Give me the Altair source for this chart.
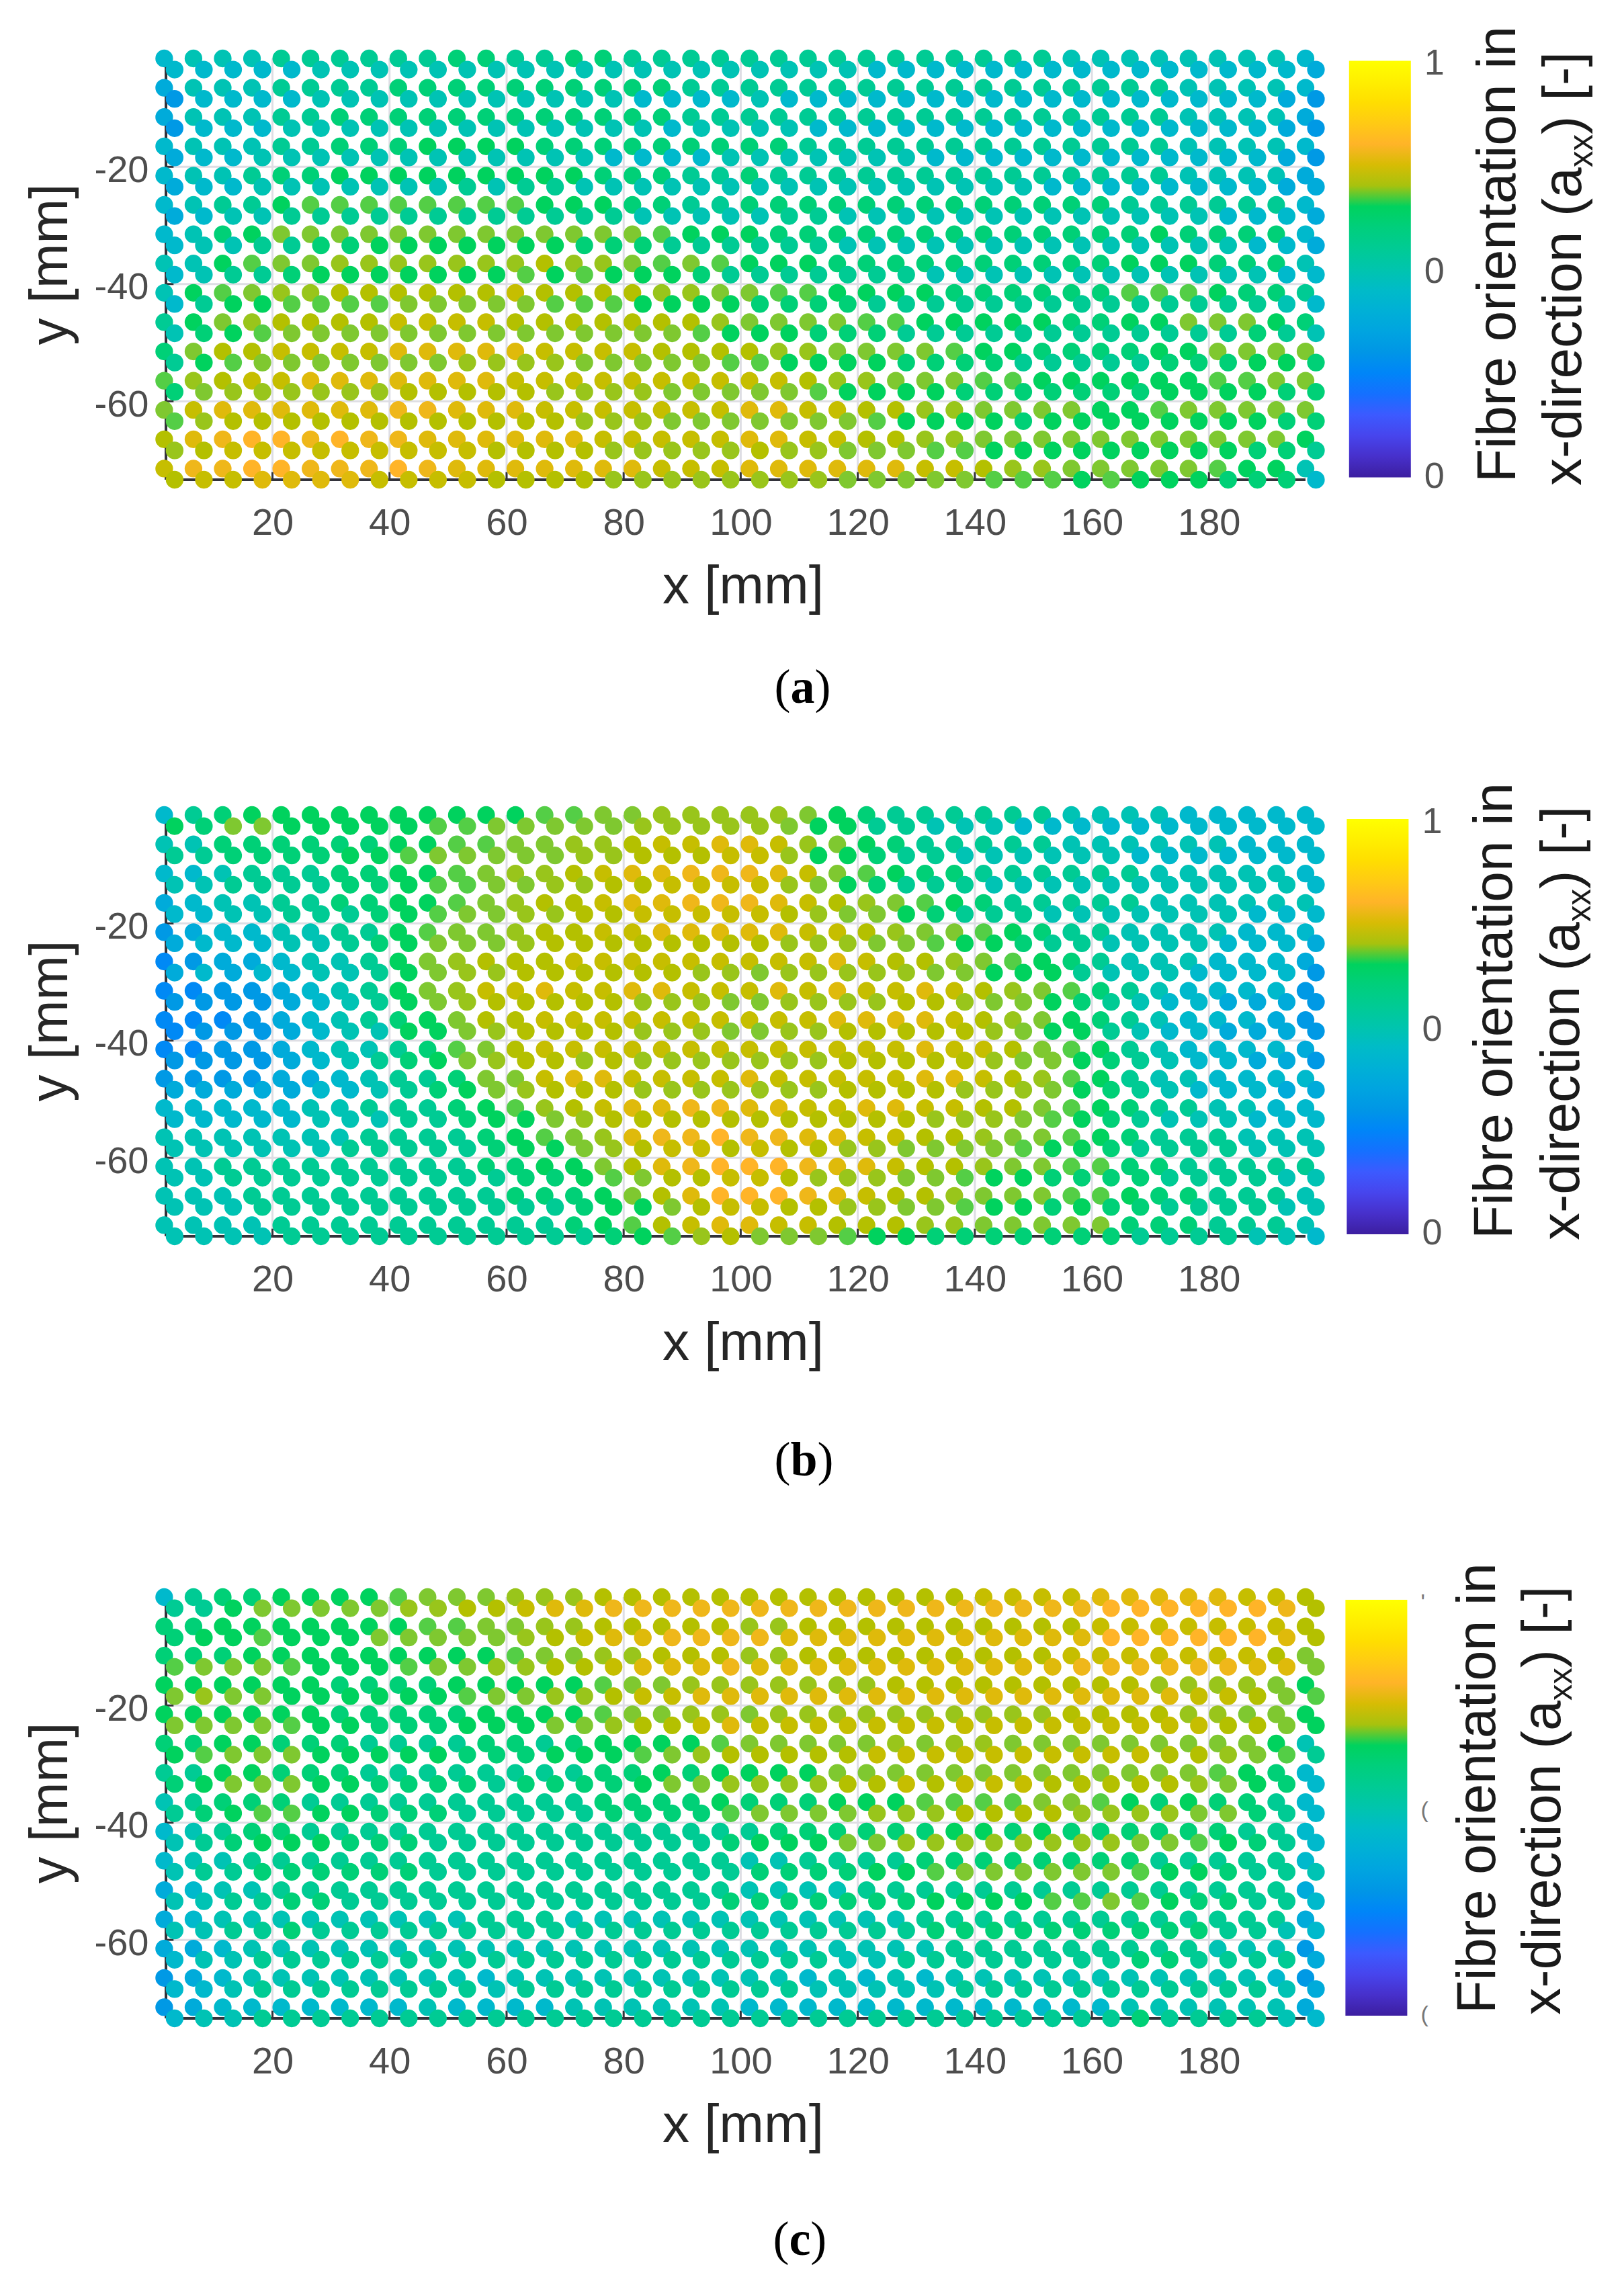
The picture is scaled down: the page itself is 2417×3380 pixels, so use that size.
import altair as alt

# Colour codes read from each dot; one string per row, 40 columns.
LEVELS = {"z": .26, "y": .29, "a": .31, "b": .38, "c": .44, "d": .49, "e": .55, "f": .61, "g": .65,
          "h": .662, "i": .672, "j": .69, "k": .71, "l": .73, "m": .76, "n": .78, "o": .80}

A_UPPER = [
 "cdddeeeeeeffeeffeeee"+"eeeeeeeeeeeddddddddc",
 "bdddeeeeffffffffffee"+"eeeeeeeeeeeeeeeddddc",
 "bdddeeffffffffffffee"+"eeeeeeeeeeeeeeeddddb",
 "cdddeefffggggfffffff"+"ffeeeeeeeeeeeeeddddc",
 "cddeffgggggggggfffee"+"feeeeeeeeeeeeeeddddb",
 "cdeeghhhhhhhhgggffee"+"fffffffffffffeeeeeec",
 "cdfgiiiiiiiiiiiiihgg"+"gfffffffffffffgffffc",
 "ddghiijjjjjjjkjjihih"+"gggffffffffffgggfffd",
 "dghijjkkkkkklkkkkjji"+"ihhggggffffffhhhgffe",
 "egijkkkkllllkkkkkkkj"+"iiiihhgggggffggiiigf",
 "fikkllllmmmmmllllkkk"+"kjjiiiihggffffggiiii",
 "hjkllmmmmmmmllllllll"+"llkjjiiihhgggggghhii",
 "ilmmmmmmnnmmmlllllll"+"mmllkkjjiiiigghiiiii",
 "kmnoononnmmmmmmlllll"+"mmllkkjjiiiiiiiiiiig",
 "lnnoonnnonmmmmmmmlll"+"mmmmmmllkjjiiiiihggd",
]
A_LOWER = [
 "cccccddddddddddddddd"+"ddddcccccccccccccccb",
 "accccdddddddddddcccc"+"dcccccccccccccccccba",
 "acccdddddddddddddcdd"+"ddccccccccccccccccba",
 "bccddddddddddddccccd"+"ddddddccccccccccccba",
 "bccdddddddedeedddddd"+"ddddddddddccccccccbb",
 "bcddeeeeeeeeeeeedddd"+"deedddddddddddddcccb",
 "cddeeffgggggggfffeee"+"eeeddddddddddddddccb",
 "cdeefggggggghghgggfe"+"eeeeeeddddddddddddcc",
 "cegghhhhiiiiihhhgggg"+"ffffeeeeeeeeeeeeeedc",
 "dfghiiiiiiiiiiiiiihg"+"ggfffeeeeeeeeeeeefed",
 "eghiiiiiiijjjjiiiiih"+"hggggffffeeeeefffggf",
 "fijjjjjjkkkkkjjjjiii"+"iihggggfffffffggggff",
 "hjkkkkkkkkkkkkjjjiii"+"iiiihggggfggggggggff",
 "jklllllllllkkkkjjjjj"+"kjjiiihhgggggggggffe",
 "kllmmmmllllkkkkjjjjj"+"jjjiiiiihhhghgggfffc",
]
B_UPPER = [
 "cefgggggggggghhiijjj"+"jjigfeeeeeeddddccccc",
 "ddffffffgghhiijjkllm"+"mljigfeeeeeddddddccc",
 "ccdeeeffgghijjklmmnn"+"nmlihgffeeeeeedddddc",
 "bcddeeffgghijkklmmnn"+"nmlkjihgfeeeeedddddd",
 "abccddeeghiijkkllmmm"+"mmllkjiihgfeeddddccc",
 "zabbcddegijkkkllllll"+"lllmlkkjihgfedddcccb",
 "zzaabcdegijllmllmmll"+"lmlmllmlkjihfedcccca",
 "zzzabcdefgikklllllll"+"lllmmmmlkjigfedcccba",
 "zzaabcddefhiklllllll"+"llllllmllkihgedccccb",
 "aaaabbcdeefiilmmllll"+"mlllllmmlkjhgeddcccc",
 "cccccddeeefghjklmmnn"+"mmllmmllkkihgfeeddcc",
 "dddddddeeeefghijmnno"+"nnmmllkkjiihgfeeeddd",
 "ddeeeeeeeeeffggikmno"+"oonmmlkkjiihhffeeeee",
 "dddeeeeeeeeefffgikmo"+"oonmlkkjiiihhgffeeed",
 "ddddeeeeeeeeeefghklm"+"mllkkkjjiiiiifffeeed",
]
B_LOWER = [
 "gfiiggggghhiiiiijjjj"+"jiggeedddccccccccccc",
 "eeffffgghiiiiijjkkkl"+"ljggfeeddddddccccccc",
 "ddeeeeffghhiijjkklll"+"ljigfeeedddddddddddc",
 "ccddeeefghiijjkkllll"+"lkjiigfeeedddddddccc",
 "bcccddefgiiijkkkkkkk"+"kjjjiihggfeeddddcccb",
 "bcbccddegijjkkkkkkjj"+"ijjjjjiigggedddcccca",
 "aaaabcdegijkkkkkjjji"+"ijjjjkkjiigfedccbbba",
 "zaaabcddggijkkkkjjji"+"ijjkkkkkjiggedccbbba",
 "aaaabcdefgijkkjkjjjj"+"jjjkkkkkjiigfedccbba",
 "bbbbbccdefgijkkkjjjj"+"jjjkkkkjjjigfedcccbb",
 "cccccdddeefggijkkkkk"+"kkkkkkjjjihgfedddccc",
 "ddddddeeeeefggijkllk"+"lkkjjiiiihggfeeeeddd",
 "ddeeeeeeeeeeffghikkl"+"lkjjjiihggffffeeeedd",
 "dddeeeeeeeeeeefggikl"+"lkkjjiihggfgffeeeedd",
 "ddddeeeeeeeeeeefghjk"+"iiihggfffffffeeeeddc",
]
C_UPPER = [
 "ceffgggghiiijjjkkkkk"+"kkkkkkkkllllmmmmmllk",
 "ffggggggghhiijjkkkkk"+"jjkkkkkkkkkklllllllk",
 "fffggggggggghiijjkkk"+"jjkkkkkkkkklllllllki",
 "ggggggffffggggghiijj"+"jjjjjkkkkkkkkkjjjjig",
 "ggggggfffffgggghiijj"+"ijjjjjjjjjjkkkkjjiig",
 "ffggfffeeeeffefggggh"+"iiiiijijjiiiiiiiiigd",
 "eeggfffeeeeeeeeffgfg"+"gggiiiiiiiiiiiiihgfc",
 "defffeeeeeeeeeeffffg"+"fffggghhhhiihgfgffec",
 "cdeffeeeeeeeeeeeeeee"+"effffffggfgffffffeec",
 "cddeeeeeeeeeeeeeeeee"+"ddeeeeffffffffeeeeec",
 "bcddeeeeeeeeeeeeeeee"+"ddddeeeeeeeeeeeeeeeb",
 "bcdddddddddeeedddddd"+"ddddddeeeeeeeeeeeeeb",
 "bbcddddddddddddddddd"+"dddddddeeeeeeeeeddda",
 "abcddddddddcdddddddd"+"ddcdcdcdddddddddddca",
 "abcccccccdccccdddddd"+"cccccccccccccddddddb",
]
C_LOWER = [
 "eegiiiiijjkklmmnnnnn"+"nnnnnnnnnnnnoooooonk",
 "fgghgggiiiiijklmmnnn"+"nmmmmmmmmmmmoooooomk",
 "hiiihggghiijjkklmmmn"+"mmmmmmmmmmmnnnnnnmmi",
 "ijiigggggghiijjkllmm"+"mmmmmmmmmmmmmmmllkih",
 "iiiihggfffgggiijkklm"+"llllllllllllllllkkig",
 "ghiiigggggfffggghijk"+"kkkkllllllllllkkjihe",
 "fgiiiggffffeffffgiij"+"jjjkklklllkkkkkjigfc",
 "efghhggfffeeeeeffffh"+"iiiijjjkkkkjjjjiifec",
 "defgggfffeeeeeeeeeef"+"gggiijjjjjjjjiihgfec",
 "deeffffffeeeeeeeeeee"+"ffffgghiiiiiihggfeed",
 "ddeeffeeeeeeeeeeeeef"+"ffffffgggghhihgffeec",
 "ddeefeeeeeeeeeeeeeee"+"eeeeeeffffffffffeedc",
 "cddeeeeeeeeeeeeeeeee"+"eeeddeeeeeeeeffeeeeb",
 "ccdeeeeeeeedeeeeeeee"+"eedddddeeeeeeeeeeedb",
 "cddeeeeeeeeeeeeeeeee"+"eeeeeeeeeeeeefeeeedc",
]

X_UPPER = [1.5 + 5 * k for k in range(40)]
Y_UPPER = [-1.5 - 5 * k for k in range(15)]
X_SHIFT, Y_SHIFT = 1.78, -1.9

STOPS = [0, .08, .15, .22, .30, .42, .52, .655, .67, .71, .80, .88, 1]
COLORS = ["#3c1ea0", "#4b3ce6", "#3c5aff", "#0078ff", "#0096e6", "#00b4d2", "#00c8a0", "#00d25a",
          "#7cc832", "#b4c000", "#ffb428", "#ffd800", "#ffff00"]

GRID_X = [20, 40, 60, 80, 100, 120, 140, 160, 180]
GRID_Y = [-20, -40, -60]
X_DOM = [1.8, 196.5]
Y_BOTTOM, Y_TOP = -73.4, -1.5
PLOT_W, PLOT_H = 1696, 627
EXTRA_TOP_C = 38
GRID_COLOR, AXIS_COLOR, TICK_COLOR = "#dedee4", "#33333a", "#4d4d4d"
FONT = "Liberation Sans"
OX = 248.6


def rows(upper, lower):
    out = []
    for r, y in enumerate(Y_UPPER):
        for c, x in enumerate(X_UPPER):
            out.append({"x": x, "y": y, "v": LEVELS[upper[r][c]]})
    for r, y in enumerate(Y_UPPER):
        for c, x in enumerate(X_UPPER):
            out.append({"x": x + X_SHIFT, "y": y + Y_SHIFT, "v": LEVELS[lower[r][c]]})
    return out


def label(txt, x, y, size, angle=0, font=FONT, weight="normal", color="#1a1a1a"):
    return alt.Chart(alt.Data(values=[{"t": txt}])).mark_text(
        align="left", baseline="alphabetic", fontSize=size, angle=angle, font=font,
        fontWeight=weight, color=color).encode(x=alt.value(x), y=alt.value(y), text="t:N")


def panel(upper, lower, oy, extra, bar_x, bar_y, bar_len, bar_w, label_expr, label_font, label_color,
          line1_x, line1_y, line2_x, line2_y, tsize, letter, cap_x, cap_base, y_center, x_title_c):
    y_dom = [Y_BOTTOM, Y_TOP + extra / 8.72]
    h = PLOT_H + extra
    x_s = alt.Scale(domain=X_DOM, nice=False, zero=False)
    y_s = alt.Scale(domain=y_dom, nice=False, zero=False)
    x_axis = alt.Axis(
        values=GRID_X, grid=False, domain=False, ticks=False, labelFont=FONT, labelFontSize=56,
        labelColor=TICK_COLOR, labelPadding=37, title="x [mm]", titleFont=FONT, titleFontSize=80,
        titleFontWeight="normal", titleColor="#262626", titleX=x_title_c - OX, titleY=183,
        titleAlign="center", titleBaseline="alphabetic")
    y_axis = alt.Axis(
        values=GRID_Y, grid=False, domain=False, ticks=False, labelFont=FONT, labelFontSize=56,
        labelColor=TICK_COLOR, labelPadding=26, labelOffset=5, labelExpr="'-' + abs(datum.value)",
        title="y [mm]", titleFont=FONT,
        titleFontSize=80, titleFontWeight="normal", titleColor="#262626", titleX=-148,
        titleY=y_center - oy, titleAlign="center", titleBaseline="alphabetic", titleAngle=270)

    def vrules(values, y0, y1, color, sw):
        d = alt.Data(values=[{"x": v, "a": y0, "b": y1} for v in values])
        return alt.Chart(d).mark_rule(color=color, strokeWidth=sw).encode(
            x=alt.X("x:Q", scale=x_s, axis=x_axis), y=alt.Y("a:Q", scale=y_s, axis=y_axis), y2="b:Q")

    def hrules(values, x0, x1, color, sw):
        d = alt.Data(values=[{"y": v, "a": x0, "b": x1} for v in values])
        return alt.Chart(d).mark_rule(color=color, strokeWidth=sw).encode(
            y=alt.Y("y:Q", scale=y_s, axis=y_axis), x=alt.X("a:Q", scale=x_s, axis=x_axis), x2="b:Q")

    pts = alt.Chart(alt.Data(values=rows(upper, lower))).mark_circle(size=690, opacity=1).encode(
        x=alt.X("x:Q", scale=x_s, axis=x_axis), y=alt.Y("y:Q", scale=y_s, axis=y_axis),
        color=alt.Color("v:Q", scale=alt.Scale(domain=STOPS, range=COLORS), legend=alt.Legend(
            orient="none", legendX=bar_x - OX, legendY=bar_y - oy, gradientLength=bar_len,
            gradientThickness=bar_w, gradientStrokeWidth=0, title=None, values=[.001, .492, .992],
            labelExpr=label_expr, labelFont=FONT, labelFontSize=label_font, labelColor=label_color,
            labelOffset=20, direction="vertical")))
    sub = tsize * 0.6
    w_main = 5.779 * tsize
    w_sub = 1.0 * sub
    title = [
        label("Fibre orientation in", line1_x - OX, line1_y - oy, tsize, angle=270),
        label("x-direction (a", line2_x - OX, line2_y - oy, tsize, angle=270),
        label("xx", line2_x + 17 - OX, line2_y - oy - w_main, sub, angle=270),
        label(") [-]", line2_x - OX, line2_y - oy - w_main - w_sub, tsize, angle=270),
    ]
    serif = "Liberation Serif"
    caps = 72
    wl = {"a": .5, "b": .556, "c": .444}[letter] * caps
    caption = [
        label("(", cap_x - OX, cap_base - oy, caps, font=serif, color="#000000"),
        label(letter, cap_x + .333 * caps - OX, cap_base - oy, caps, font=serif, weight="bold", color="#000000"),
        label(")", cap_x + .333 * caps + wl - OX, cap_base - oy, caps, font=serif, color="#000000"),
    ]
    return alt.layer(
        vrules(GRID_X, Y_BOTTOM, Y_TOP, GRID_COLOR, 3),
        hrules(GRID_Y, X_DOM[0], X_DOM[1], GRID_COLOR, 3),
        vrules([X_DOM[0]], Y_BOTTOM, Y_TOP, AXIS_COLOR, 4),
        hrules([Y_BOTTOM], X_DOM[0], X_DOM[1], AXIS_COLOR, 4),
        vrules(GRID_X, Y_BOTTOM, Y_BOTTOM + 1.3, AXIS_COLOR, 3),
        hrules(GRID_Y, X_DOM[0], X_DOM[0] + 1.3, AXIS_COLOR, 3),
        pts, *title, *caption).properties(width=PLOT_W, height=h)


LABELS_NUM = "datum.value > .9 ? '1' : '0'"
LABELS_CLIPPED = "datum.value > .9 ? \"'\" : '('"

a = panel(A_UPPER, A_LOWER, 82, 0, 2009.4, 85.4, 620, 92, LABELS_NUM, 54, "#555555",
          2257, 713, 2355, 718, 82, "a", 1154, 1041, 388, 1107)
b = panel(B_UPPER, B_LOWER, 1208, 0, 2006, 1214, 618, 92, LABELS_NUM, 54, "#555555",
          2252, 1839, 2352, 1841, 82, "b", 1154, 2191, 1514, 1107)
c = panel(C_UPPER, C_LOWER, 2334, EXTRA_TOP_C, 2004, 2376, 619, 92, LABELS_CLIPPED, 34, "#777777",
          2227, 2992, 2324, 2994, 81, "c", 1152, 3351, 2678, 1107)

chart = alt.vconcat(a, b, c, spacing=499, bounds="flush").resolve_scale(
    color="independent").resolve_legend(color="independent").properties(
    padding={"left": 27, "top": 30, "right": 10, "bottom": 10}).configure_view(stroke=None)

chart.save("out.html", embed_options={"renderer": "svg", "actions": False})
